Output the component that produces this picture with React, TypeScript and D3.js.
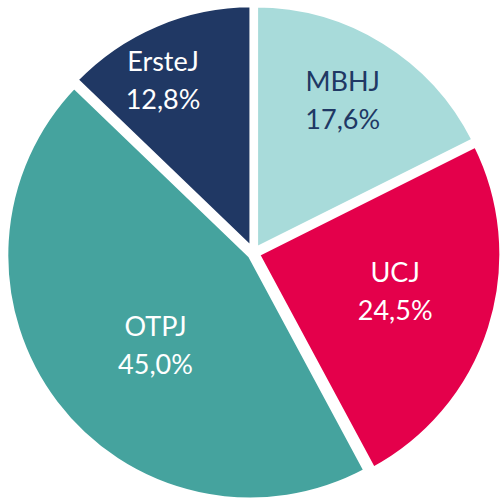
import React from 'react';
import * as d3 from 'd3';

// slice data, clockwise from 12 o'clock
const names = ['MBHJ', 'UCJ', 'OTPJ', 'ErsteJ'];
const shares = [17.6, 24.5, 45.0, 12.8];
const shareLabels = ['17,6%', '24,5%', '45,0%', '12,8%'];
const colors = ['#A8DBDA', '#E4004B', '#45A39E', '#203864'];
const textColors = ['#203864', '#ffffff', '#ffffff', '#ffffff'];

// label placement: radius fraction and angle tweak (degrees)
const labelRadius = [0.725, 0.6, 0.55, 0.8];
const labelTurn = [-1.5, -2.5, -6, -4.5];

const width = 501;
const height = 499;
const cx = 253.5;
const cy = 253;
const radius = 244.5;
const explode = 4;

export default function App() {
  const pie = d3.pie<number>().sort(null).value(d => d);
  const arcs = pie(shares);
  const arc = d3.arc<d3.PieArcDatum<number>>().innerRadius(0).outerRadius(radius);

  return (
    <svg width={width} height={height} style={{ position: 'absolute', left: 0, top: 0 }}>
      <rect width={width} height={height} fill="#ffffff" />
      <g transform={`translate(${cx},${cy})`}>
        {arcs.map((a, i) => {
          const mid = (a.startAngle + a.endAngle) / 2;
          const dx = Math.sin(mid) * explode;
          const dy = -Math.cos(mid) * explode;
          return (
            <path
              key={names[i]}
              d={arc(a) || ''}
              transform={`translate(${dx},${dy})`}
              fill={colors[i]}
              stroke="#ffffff"
              strokeWidth={5}
              strokeLinejoin="miter"
            />
          );
        })}
        {arcs.map((a, i) => {
          const mid = (a.startAngle + a.endAngle) / 2 + (labelTurn[i] * Math.PI) / 180;
          const r = radius * labelRadius[i];
          const x = Math.sin(mid) * r;
          const y = -Math.cos(mid) * r;
          return (
            <text
              key={'t' + names[i]}
              x={x}
              y={y}
              textAnchor="middle"
              fill={textColors[i]}
              fontFamily="Lato, 'Open Sans', sans-serif"
              fontSize={27}
            >
              <tspan x={x} dy={-9}>{names[i]}</tspan>
              <tspan x={x} dy={38}>{shareLabels[i]}</tspan>
            </text>
          );
        })}
      </g>
    </svg>
  );
}
